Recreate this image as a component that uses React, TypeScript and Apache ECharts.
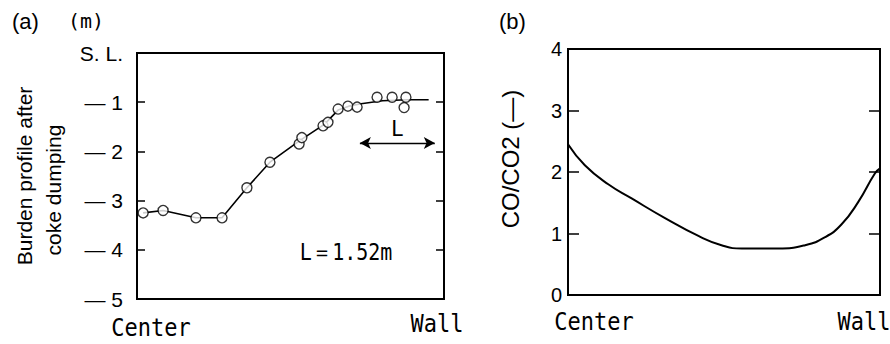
import React, { useEffect, useRef } from "react";
import * as echarts from "echarts";

// (a) burden profile after coke dumping: measured points (x: Center=0 → Wall=1, y: m below S.L.)
const profilePointsX = [0.02, 0.085, 0.192, 0.277, 0.358, 0.433, 0.528, 0.537, 0.606, 0.622, 0.655, 0.687, 0.717, 0.782, 0.831, 0.876, 0.87];
const profilePointsY = [-3.25, -3.2, -3.35, -3.35, -2.74, -2.22, -1.85, -1.72, -1.48, -1.41, -1.14, -1.08, -1.1, -0.9, -0.9, -0.9, -1.11];
// (a) fitted profile line
const profileLineX = [0.02, 0.085, 0.192, 0.277, 0.358, 0.433, 0.53, 0.61, 0.655, 0.69, 0.73, 0.8, 0.88, 0.95];
const profileLineY = [-3.25, -3.2, -3.35, -3.35, -2.74, -2.22, -1.78, -1.45, -1.16, -1.08, -1.03, -0.97, -0.95, -0.95];
// (a) length L arrow
const arrowX = [0.726, 0.97];
const arrowY = -1.83;
// (b) CO/CO2 radial distribution
const coX = [0, 0.054, 0.129, 0.204, 0.311, 0.418, 0.492, 0.557, 0.674, 0.76, 0.824, 0.877, 0.93, 0.984, 1.0];
const coY = [2.45, 2.11, 1.8, 1.57, 1.25, 0.96, 0.81, 0.755, 0.755, 0.81, 0.94, 1.15, 1.51, 1.98, 2.06];

const SANS = "'Liberation Sans', Arial, sans-serif";
const MONO = "'DejaVu Sans Mono', 'Liberation Mono', monospace";

export default function App() {
  const ref = useRef<HTMLDivElement>(null);
  useEffect(() => {
    if (!ref.current) return;
    const chart = echarts.init(ref.current, undefined, { renderer: "svg" });
    const black = "#000";
    const zip = (xs: number[], ys: number[]) => xs.map((x, i) => [x, ys[i]]);
    const monoText = (text: string, x: number, y: number, size = 22) => ({
      type: "text", x, y, scaleY: 1.15,
      style: { text, font: `${size}px ${MONO}`, fill: black, align: "center", verticalAlign: "middle" },
    });
    const option: any = {
      animation: false,
      backgroundColor: "#fff",
      grid: [
        { left: 137, top: 53, width: 307, height: 246, show: true, borderColor: black, borderWidth: 2, backgroundColor: "transparent" },
        { left: 568, top: 49, width: 312, height: 246, show: true, borderColor: black, borderWidth: 2, backgroundColor: "transparent" },
      ],
      xAxis: [
        { type: "value", gridIndex: 0, min: 0, max: 1, axisLine: { show: true, lineStyle: { color: black, width: 2 } }, axisTick: { show: false }, axisLabel: { show: false }, splitLine: { show: false } },
        { type: "value", gridIndex: 1, min: 0, max: 1, axisLine: { show: true, lineStyle: { color: black, width: 2 } }, axisTick: { show: false }, axisLabel: { show: false }, splitLine: { show: false } },
      ],
      yAxis: [
        {
          type: "value", gridIndex: 0, min: -5, max: 0, interval: 1, position: "left",
          axisLine: { show: true, lineStyle: { color: black, width: 2 } },
          axisTick: { show: true, inside: true, length: 8, lineStyle: { color: black, width: 1.5 } },
          axisLabel: {
            color: black, fontFamily: SANS, fontSize: 21, margin: 14,
            formatter: (v: number) => (v === 0 ? "S. L." : "— " + Math.abs(v)),
          },
          splitLine: { show: false },
        },
        {
          type: "value", gridIndex: 0, min: -5, max: 0, interval: 1, position: "right",
          axisLine: { show: true, lineStyle: { color: black, width: 2 } },
          axisTick: { show: true, inside: true, length: 8, lineStyle: { color: black, width: 1.5 } },
          axisLabel: { show: false }, splitLine: { show: false },
        },
        {
          type: "value", gridIndex: 1, min: 0, max: 4, interval: 1, position: "left",
          axisLine: { show: true, lineStyle: { color: black, width: 2 } },
          axisTick: { show: true, inside: true, length: 11, lineStyle: { color: black, width: 1.5 } },
          axisLabel: { color: black, fontFamily: SANS, fontSize: 20, margin: 6 },
          splitLine: { show: false },
        },
        {
          type: "value", gridIndex: 1, min: 0, max: 4, interval: 1, position: "right",
          axisLine: { show: true, lineStyle: { color: black, width: 2 } },
          axisTick: { show: true, inside: true, length: 11, lineStyle: { color: black, width: 1.5 } },
          axisLabel: { show: false }, splitLine: { show: false },
        },
      ],
      series: [
        {
          name: "profile line", type: "line", xAxisIndex: 0, yAxisIndex: 0,
          data: zip(profileLineX, profileLineY), showSymbol: false, symbol: "none",
          lineStyle: { color: black, width: 1.6 }, z: 2,
          markLine: {
            silent: true, symbol: ["arrow", "arrow"], symbolSize: [9, 11],
            lineStyle: { color: black, width: 1.3, type: "solid" },
            label: { show: true, position: "middle", formatter: "L", color: black, fontFamily: MONO, fontSize: 21, distance: 4 },
            data: [[{ coord: [arrowX[0], arrowY] }, { coord: [arrowX[1], arrowY] }]],
          },
        },
        {
          name: "profile points", type: "scatter", xAxisIndex: 0, yAxisIndex: 0,
          data: zip(profilePointsX, profilePointsY), symbol: "circle", symbolSize: 10,
          itemStyle: { color: "#fff", borderColor: black, borderWidth: 1.4 }, z: 3,
        },
        {
          name: "CO/CO2", type: "line", xAxisIndex: 1, yAxisIndex: 2,
          data: zip(coX, coY), smooth: 0.5, showSymbol: false, symbol: "none",
          lineStyle: { color: black, width: 2 },
        },
      ],
      graphic: [
        { type: "text", left: 12, top: 10, style: { text: "(a)", font: `22px ${SANS}`, fill: black } },
        { type: "text", left: 68, top: 11, style: { text: "(m)", font: `20px ${MONO}`, fill: black } },
        { type: "text", left: 499, top: 10, style: { text: "(b)", font: `22px ${SANS}`, fill: black } },
        { type: "text", x: 24, y: 176, rotation: Math.PI / 2, style: { text: "Burden profile after", font: `21px ${SANS}`, fill: black, align: "center", verticalAlign: "middle" } },
        { type: "text", x: 53, y: 190, rotation: Math.PI / 2, style: { text: "coke dumping", font: `21px ${SANS}`, fill: black, align: "center", verticalAlign: "middle" } },
        { type: "text", x: 510, y: 159, rotation: Math.PI / 2, style: { text: "CO/CO2 (—)", font: `24px ${SANS}`, fill: black, align: "center", verticalAlign: "middle" } },
        monoText("L＝1.52m", 346, 252, 20),
        monoText("Center", 151, 327),
        monoText("Wall", 437, 323),
        monoText("Center", 594, 321),
        monoText("Wall", 864, 321),
      ],
    };
    chart.setOption(option);
    return () => chart.dispose();
  }, []);
  return <div ref={ref} style={{ position: "fixed", left: 0, top: 0, width: 890, height: 344 }} />;
}
